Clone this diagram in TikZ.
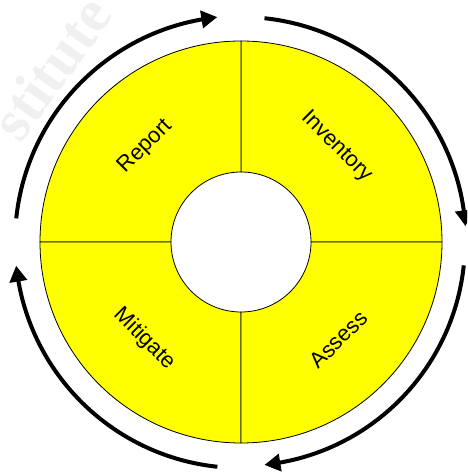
\documentclass[tikz,border=0pt]{standalone}
\usepackage{fontspec}
\setmainfont{Liberation Sans}
\newfontfamily\wmfont{Liberation Serif}
\usetikzlibrary{arrows.meta,bending}
\definecolor{secfill}{RGB}{255,255,0}
\begin{document}
\begin{tikzpicture}[x=1pt,y=1pt,
  sector/.style={fill=secfill,draw=black,line width=0.8pt},
  cyclearrow/.style={line width=4pt,-{Triangle[length=16pt,width=17pt,bend]}},
  lbl/.style={font=\fontsize{22}{26}\selectfont,text=black}]
\useasboundingbox (-241,-231) rectangle (226,242);
\clip (-241,-231) rectangle (226,242);
% faint watermark
\node[font=\wmfont\bfseries\fontsize{60}{60}\selectfont,text=black!6,rotate=54] (wm) at (-190,174) {stitute};
% sectors
\foreach \a in {0,90,180,270}{
  \path[sector] (\a:201) arc[start angle=\a,end angle=\a+90,radius=201]
     -- ({\a+90}:70) arc[start angle=\a+90,end angle=\a,radius=70] -- cycle;
}
% labels
\node[lbl,rotate=45] (report) at (135:135) {Report};
\node[lbl,rotate=-45] (inventory) at (45:135) {Inventory};
\node[lbl,rotate=-45] (mitigate) at (225:137) {Mitigate};
\node[lbl,rotate=45] (assess) at (-45:138) {Assess};
% cycle arrows
\draw[cyclearrow] (174:226) arc[start angle=174,end angle=96,radius=226];
\draw[cyclearrow] (84:225) arc[start angle=84,end angle=4,radius=225];
\draw[cyclearrow] (-6:224) arc[start angle=-6,end angle=-84,radius=224];
\draw[cyclearrow] (-96:226) arc[start angle=-96,end angle=-174,radius=226];
\end{tikzpicture}
\end{document}
